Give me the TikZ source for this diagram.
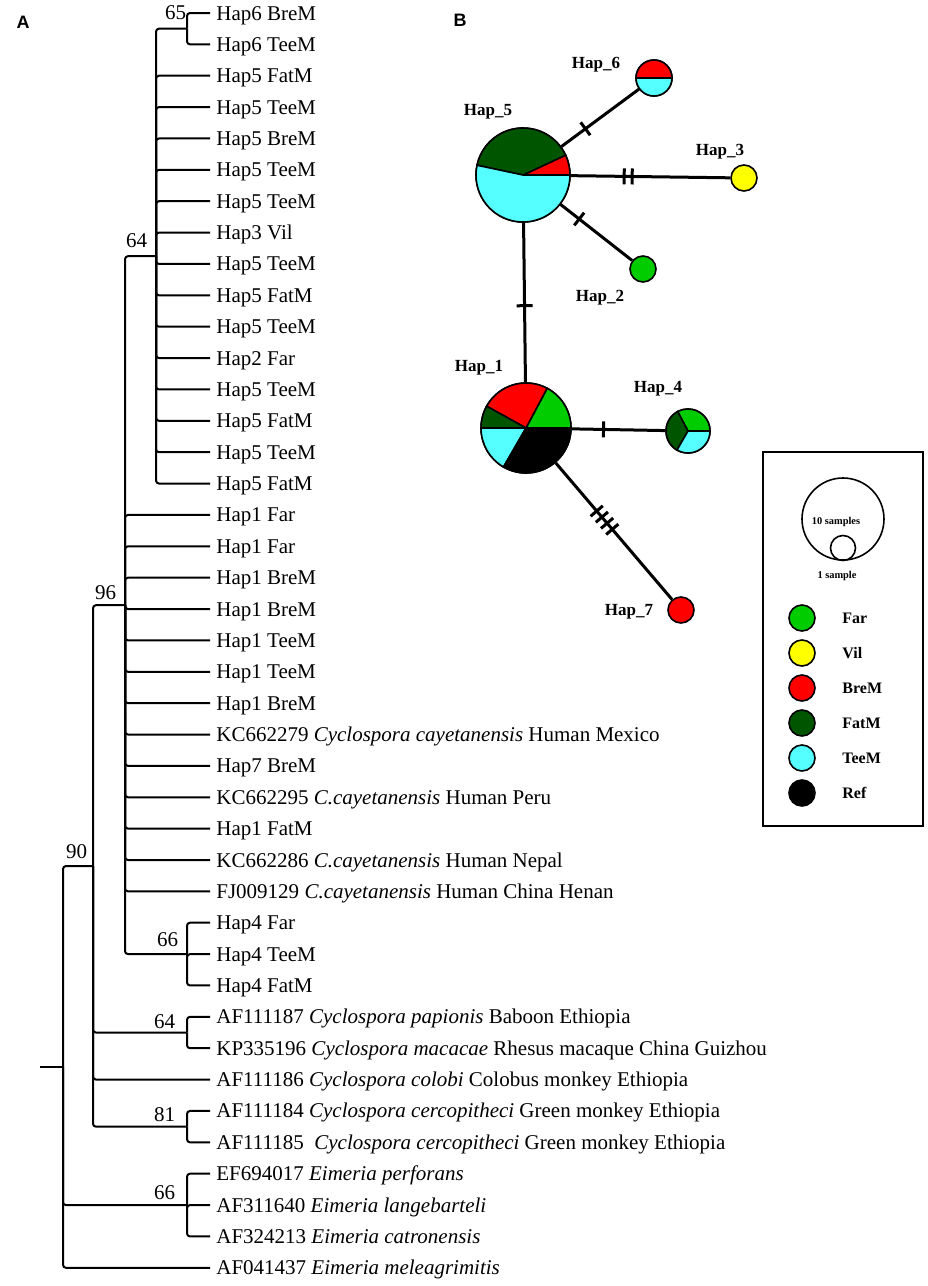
\documentclass[tikz,border=0pt]{standalone}
\usepackage{fontspec}
\setmainfont{Liberation Serif}
\newfontfamily\panelfont{Liberation Sans}
\usetikzlibrary{decorations.markings}

\definecolor{farcol}{RGB}{0,204,0}
\definecolor{vilcol}{RGB}{255,255,0}
\definecolor{bremcol}{RGB}{255,0,0}
\definecolor{fatmcol}{RGB}{0,85,0}
\definecolor{teemcol}{RGB}{85,255,255}

\tikzset{
  branch/.style={line width=1pt, rounded corners=1.5pt},
  leaf/.style={anchor=west, inner xsep=3pt, inner ysep=0pt, text height=7pt, text depth=0pt,
    font=\fontsize{10.5}{12}\selectfont},
  boot/.style={anchor=base east, inner sep=0pt, font=\fontsize{10.5}{12}\selectfont},
  hap/.style={circle, draw, line width=0.8pt, inner sep=0pt},
  slice/.style={draw=black, line width=0.8pt},
  link/.style={line width=1.5pt},
  netlbl/.style={inner sep=0pt, font=\bfseries\fontsize{8.5}{10}\selectfont},
  legtxt/.style={anchor=west, inner sep=0pt, font=\bfseries\fontsize{8}{10}\selectfont},
  onetick/.style={postaction={decorate, decoration={markings,
    mark=at position #1 with {\draw[line width=1.5pt] (0,-8) -- (0,8);}}}},
  twoticks/.style={postaction={decorate, decoration={markings,
    mark=at position #1 with {\draw[line width=1.5pt] (-4,-8) -- (-4,8) (4,-8) -- (4,8);}}}},
  fourticks/.style={postaction={decorate, decoration={markings,
    mark=at position #1 with {\draw[line width=1.5pt] (-12,-8) -- (-12,8) (-4,-8) -- (-4,8)
      (4,-8) -- (4,8) (12,-8) -- (12,8);}}}}
}

% pie slice: centre, radius, from angle, to angle, colour
\newcommand\hapslice[5]{\filldraw[slice, fill=#5] (#1) -- ++(-#3:#2)
  arc[start angle=-#3, end angle=-#4, radius=#2] -- cycle;}

\begin{document}
\begin{tikzpicture}[x=0.5pt, y=-0.5pt]
  \useasboundingbox (0,0) rectangle (927,1286);
  \fill[white] (0,0) rectangle (927,1286);

  % A: tree
  \node[font=\panelfont\bfseries\fontsize{9}{10}\selectfont, inner sep=0pt] (pa) at (23,22) {A};
  \foreach \i/\t in {1/{Hap6 BreM}, 2/{Hap6 TeeM}, 3/{Hap5 FatM}, 4/{Hap5 TeeM},
      5/{Hap5 BreM}, 6/{Hap5 TeeM}, 7/{Hap5 TeeM}, 8/{Hap3 Vil}, 9/{Hap5 TeeM},
      10/{Hap5 FatM}, 11/{Hap5 TeeM}, 12/{Hap2 Far}, 13/{Hap5 TeeM}, 14/{Hap5 FatM},
      15/{Hap5 TeeM}, 16/{Hap5 FatM}, 17/{Hap1 Far}, 18/{Hap1 Far}, 19/{Hap1 BreM},
      20/{Hap1 BreM}, 21/{Hap1 TeeM}, 22/{Hap1 TeeM}, 23/{Hap1 BreM},
      24/{KC662279 \textit{Cyclospora cayetanensis} Human Mexico},
      25/{Hap7 BreM},
      26/{KC662295 \textit{C.cayetanensis} Human Peru},
      27/{Hap1 FatM},
      28/{KC662286 \textit{C.cayetanensis} Human Nepal},
      29/{FJ009129 \textit{C.cayetanensis} Human China Henan},
      30/{Hap4 Far}, 31/{Hap4 TeeM}, 32/{Hap4 FatM},
      33/{AF111187 \textit{Cyclospora papionis} Baboon Ethiopia},
      34/{KP335196 \textit{Cyclospora macacae} Rhesus macaque China Guizhou},
      35/{AF111186 \textit{Cyclospora colobi} Colobus monkey Ethiopia},
      36/{AF111184 \textit{Cyclospora cercopitheci} Green monkey Ethiopia},
      37/{AF111185\ \ \textit{Cyclospora cercopitheci} Green monkey Ethiopia},
      38/{EF694017 \textit{Eimeria perforans}},
      39/{AF311640 \textit{Eimeria langebarteli}},
      40/{AF324213 \textit{Eimeria catronensis}},
      41/{AF041437 \textit{Eimeria meleagrimitis}}}
    \node[leaf] (l\i) at (210,{13+(\i-1)*31.37}) {\t};

  \coordinate (n65) at (187,28.7);
  \coordinate (n64a) at (156,256.2);
  \coordinate (n66a) at (187,954.1);
  \coordinate (n96) at (125,605.2);
  \coordinate (n64b) at (187,1032.6);
  \coordinate (n81) at (187,1126.7);
  \coordinate (n90) at (93,866);
  \coordinate (n66b) at (187,1205.1);
  \coordinate (root) at (63,1066.9);
  \coordinate (r0) at (40,1066.9);

  \draw[branch] (n65) |- (l1.west);
  \draw[branch] (n65) |- (l2.west);
  \draw[branch] (n64a) |- (n65);
  \foreach \i in {3,...,16}
    \draw[branch] (n64a) |- (l\i.west);
  \draw[branch] (n96) |- (n64a);
  \foreach \i in {17,...,29}
    \draw[branch] (n96) |- (l\i.west);
  \draw[branch] (n96) |- (n66a);
  \foreach \i in {30,31,32}
    \draw[branch] (n66a) |- (l\i.west);
  \draw[branch] (n64b) |- (l33.west);
  \draw[branch] (n64b) |- (l34.west);
  \draw[branch] (n81) |- (l36.west);
  \draw[branch] (n81) |- (l37.west);
  \draw[branch] (n90) |- (n96);
  \draw[branch] (n90) |- (n64b);
  \draw[branch] (n90) |- (l35.west);
  \draw[branch] (n90) |- (n81);
  \foreach \i in {38,39,40}
    \draw[branch] (n66b) |- (l\i.west);
  \draw[branch] (root) |- (n90);
  \draw[branch] (root) |- (n66b);
  \draw[branch] (root) |- (l41.west);
  \draw[branch] (r0) -- (root);

  % bootstrap values
  \node[boot] (b65) at (186.5,19) {65};
  \node[boot] (b64a) at (147.5,247) {64};
  \node[boot] (b96) at (116.5,599) {96};
  \node[boot] (b90) at (87.5,858) {90};
  \node[boot] (b66a) at (178.5,946) {66};
  \node[boot] (b64b) at (175.5,1028) {64};
  \node[boot] (b81) at (175.5,1121) {81};
  \node[boot] (b66b) at (175.5,1199) {66};

  % B: network
  \node[font=\panelfont\bfseries\fontsize{9}{10}\selectfont, inner sep=0pt] (pb) at (460,20) {B};
  \node[hap, minimum size=47pt] (h5) at (523,175) {};
  \node[hap, minimum size=18pt] (h6) at (654,78) {};
  \node[hap, minimum size=13pt, fill=vilcol] (h3) at (744,178) {};
  \node[hap, minimum size=13pt, fill=farcol] (h2) at (643,269) {};
  \node[hap, minimum size=45pt] (h1) at (526,428) {};
  \node[hap, minimum size=22pt] (h4) at (688,431) {};
  \node[hap, minimum size=13pt, fill=bremcol] (h7) at (681,610) {};

  \hapslice{h5.center}{47}{0}{25}{bremcol}
  \hapslice{h5.center}{47}{25}{168}{fatmcol}
  \hapslice{h5.center}{47}{168}{360}{teemcol}
  \hapslice{h6.center}{18}{0}{180}{bremcol}
  \hapslice{h6.center}{18}{180}{360}{teemcol}
  \hapslice{h1.center}{45}{0}{62}{farcol}
  \hapslice{h1.center}{45}{62}{151}{bremcol}
  \hapslice{h1.center}{45}{151}{180}{fatmcol}
  \hapslice{h1.center}{45}{180}{240}{teemcol}
  \hapslice{h1.center}{45}{240}{360}{black}
  \hapslice{h4.center}{22}{0}{118}{farcol}
  \hapslice{h4.center}{22}{118}{240}{fatmcol}
  \hapslice{h4.center}{22}{240}{360}{teemcol}

  \draw[link, onetick=0.31] (h5) -- (h6);
  \draw[link, twoticks=0.36] (h5) -- (h3);
  \draw[link, onetick=0.26] (h5) -- (h2);
  \draw[link, onetick=0.52] (h5) -- (h1);
  \draw[link, onetick=0.34] (h1) -- (h4);
  \draw[link, fourticks=0.42] (h1) -- (h7);

  \node[netlbl] (t5) at (488,112) {Hap\_5};
  \node[netlbl] (t6) at (596,65) {Hap\_6};
  \node[netlbl] (t3) at (720,152) {Hap\_3};
  \node[netlbl] (t2) at (600,298) {Hap\_2};
  \node[netlbl] (t1) at (479,368) {Hap\_1};
  \node[netlbl] (t4) at (658,389) {Hap\_4};
  \node[netlbl] (t7) at (629,612) {Hap\_7};

  % legend
  \draw[line width=1pt] (763,452) rectangle (923,826);
  \node[circle, draw, line width=0.8pt, inner sep=0pt, minimum size=41pt] (big) at (843,519) {};
  \node[circle, draw, line width=0.8pt, inner sep=0pt, minimum size=12.5pt] (small) at (843,548) {};
  \node[inner sep=0pt, font=\bfseries\fontsize{5.2}{6}\selectfont] (t10) at (836,522) {10 samples};
  \node[inner sep=0pt, font=\bfseries\fontsize{5.2}{6}\selectfont] (tone) at (837,576) {1 sample};
  \foreach \c/\t/\y in {farcol/Far/618, vilcol/Vil/653, bremcol/BreM/688,
      fatmcol/FatM/723, teemcol/TeeM/758, black/Ref/793} {
    \node[hap, minimum size=13pt, fill=\c] (k\t) at (802,\y) {};
    \node[legtxt] (n\t) at (842,\y) {\t};
  }
\end{tikzpicture}
\end{document}
